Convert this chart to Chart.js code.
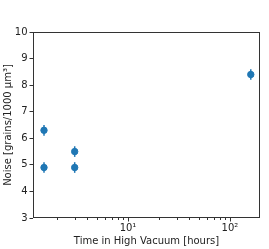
<!DOCTYPE html>
<html>
<head>
<meta charset="utf-8">
<script src="https://cdn.jsdelivr.net/npm/chart.js@4/dist/chart.umd.min.js"></script>
<style>
  html, body { margin: 0; padding: 0; background: #fff; }
  #wrap { width: 269px; height: 249px; }
</style>
</head>
<body>
<div id="wrap"><canvas id="noiseChart"></canvas></div>
<script>
// hours in high vacuum vs noise
const hours = [1.5, 1.5, 3, 3, 160];
const noise = [6.3, 4.9, 5.5, 4.9, 8.4];
const noiseErr = [0.2, 0.2, 0.2, 0.2, 0.2];
const yTicks = [3, 4, 5, 6, 7, 8, 9, 10];
const xMajor = { 10: '10\u00b9', 100: '10\u00b2' };

const blue = '#1f77b4';
const font = { family: 'DejaVu Sans', size: 10 };

// error bars + frame + log minor ticks
const extras = {
  id: 'extras',
  beforeDatasetsDraw(chart) {
    const { ctx } = chart;
    const xs = chart.scales.x, ys = chart.scales.y;
    ctx.save();
    ctx.strokeStyle = blue;
    ctx.lineWidth = 1.5;
    hours.forEach((h, i) => {
      const px = xs.getPixelForValue(h);
      ctx.beginPath();
      ctx.moveTo(px, ys.getPixelForValue(noise[i] - noiseErr[i]));
      ctx.lineTo(px, ys.getPixelForValue(noise[i] + noiseErr[i]));
      ctx.stroke();
    });
    ctx.restore();
  },
  afterDraw(chart) {
    const { ctx, chartArea: a } = chart;
    const xs = chart.scales.x;
    ctx.save();
    ctx.strokeStyle = '#333';
    ctx.lineWidth = 1;
    ctx.strokeRect(a.left + 0.5, a.top + 0.5, a.right - a.left - 1, a.bottom - a.top - 1);
    ctx.beginPath();
    for (const dec of [1, 10, 100]) {
      for (let m = 1; m < 10; m++) {
        const v = dec * m;
        if (v < xs.min || v > xs.max) continue;
        const px = Math.round(xs.getPixelForValue(v)) + 0.5;
        const len = m === 1 ? 3.5 : 2;
        ctx.moveTo(px, a.bottom);
        ctx.lineTo(px, a.bottom + len);
      }
    }
    ctx.stroke();
    ctx.restore();
  }
};

new Chart(document.getElementById('noiseChart'), {
  type: 'scatter',
  data: {
    datasets: [{
      data: hours.map((h, i) => ({ x: h, y: noise[i] })),
      backgroundColor: blue,
      borderColor: blue,
      pointRadius: 3.2,
      pointHoverRadius: 3.2
    }]
  },
  options: {
    responsive: true,
    maintainAspectRatio: false,
    animation: false,
    layout: { padding: { top: 32, right: 9, left: 0, bottom: 0 } },
    plugins: { legend: { display: false }, tooltip: { enabled: false } },
    scales: {
      x: {
        type: 'logarithmic',
        min: 1.17,
        max: 197,
        grid: { display: false, drawOnChartArea: false, drawTicks: false, tickLength: 0 },
        border: { display: false },
        ticks: {
          autoSkip: false,
          maxRotation: 0,
          padding: 4,
          color: '#222',
          font,
          callback: (v) => xMajor[v] || ''
        },
        title: { display: true, text: 'Time in High Vacuum [hours]', color: '#222', font, padding: { top: 0, bottom: 2 } },
        afterFit: (s) => { s.height = 31; }
      },
      y: {
        min: 3,
        max: 10,
        afterBuildTicks: (s) => { s.ticks = yTicks.map(v => ({ value: v })); },
        grid: { drawOnChartArea: false, tickLength: 3.5, color: '#333' },
        border: { display: false },
        ticks: { color: '#222', font, padding: 2 },
        title: { display: true, text: 'Noise [grains/1000 \u03bcm\u00b3]', color: '#222', font, padding: { top: 2, bottom: 0 } },
        afterFit: (s) => { s.width = 33; }
      }
    }
  },
  plugins: [extras]
});
</script>
</body>
</html>
